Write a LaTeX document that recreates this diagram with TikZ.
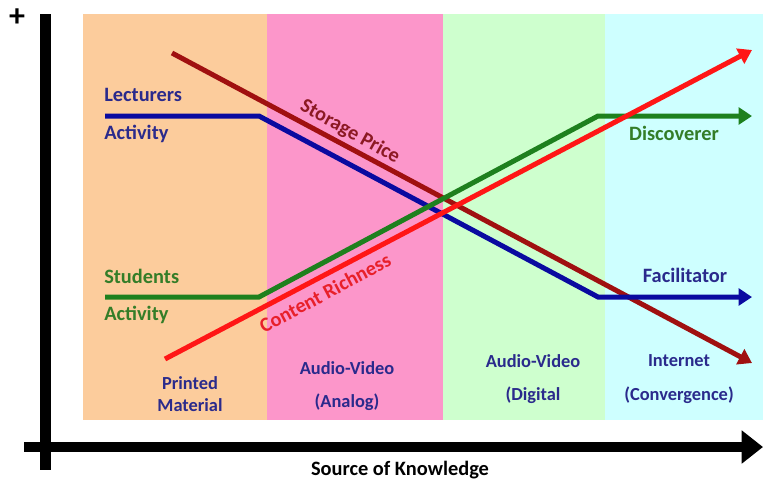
\documentclass[tikz,border=0pt]{standalone}
\usepackage{fontspec}
\setmainfont{Carlito}
\usetikzlibrary{arrows.meta}
\definecolor{peach}{RGB}{252,204,156}
\definecolor{pinkb}{RGB}{252,150,202}
\definecolor{greenb}{RGB}{206,255,206}
\definecolor{cyanb}{RGB}{206,255,255}
\definecolor{lnred}{RGB}{255,22,22}
\definecolor{lndred}{RGB}{160,16,16}
\definecolor{lnblue}{RGB}{10,10,160}
\definecolor{lngreen}{RGB}{30,128,30}
\definecolor{txblue}{RGB}{42,42,140}
\definecolor{txgreen}{RGB}{52,125,40}
\definecolor{txdred}{RGB}{140,25,35}
\definecolor{txred}{RGB}{232,32,42}
\begin{document}
\begin{tikzpicture}[x=0.75pt,y=-0.75pt,
  trend/.style={line width=3.75pt},
  tip/.style={-{Triangle[length=10pt,width=12.5pt]}},
  lbl/.style={font=\fontsize{15.3}{18}\selectfont\bfseries, inner sep=0pt},
  era/.style={font=\fontsize{13.8}{16}\selectfont\bfseries, inner sep=0pt, text=txblue}]
\useasboundingbox (0,0) rectangle (763,479);
% bands
\fill[peach] (83,14) rectangle (267,420);
\fill[pinkb] (267,14) rectangle (443,420);
\fill[greenb] (443,14) rectangle (605,420);
\fill[cyanb] (605,14) rectangle (763,420);
% axes
\fill[black] (40,14) rectangle (51,470);
\draw[line width=8pt,-{Triangle[length=16pt,width=24pt]}] (24,447) -- (763,447);
\node[font=\fontsize{24}{24}\selectfont\bfseries, inner sep=0pt] (plus) at (17,18) {+};
\node[font=\fontsize{15.3}{18}\selectfont\bfseries, inner sep=0pt] (xlab) at (400,470) {Source of Knowledge};
% coordinates
\coordinate (sp0) at (172,53);
\coordinate (sp1) at (752,363);
\coordinate (la0) at (105,116);
\coordinate (la1) at (259,116);
\coordinate (la2) at (598,297);
\coordinate (la3) at (752,297);
\coordinate (sa0) at (105,297);
\coordinate (sa1) at (259,297);
\coordinate (sa2) at (598,116);
\coordinate (sa3) at (752,116);
\coordinate (cr0) at (165,359);
\coordinate (cr1) at (752,50);
% lines
\draw[trend,lndred,tip] (sp0) -- (sp1);
\draw[trend,lnblue,tip] (la0) -- (la1) -- (la2) -- (la3);
\draw[trend,lngreen,tip] (sa0) -- (sa1) -- (sa2) -- (sa3);
\draw[trend,lnred,tip] (cr0) -- (cr1);
% labels
\node[lbl,text=txblue,anchor=west] (lec) at (104,95) {Lecturers};
\node[lbl,text=txblue,anchor=west] (lecact) at (104,134) {Activity};
\node[lbl,text=txgreen,anchor=west] (stu) at (104,276) {Students};
\node[lbl,text=txgreen,anchor=west] (stuact) at (104,315) {Activity};
\node[lbl,text=txgreen] (disc) at (674,133) {Discoverer};
\node[lbl,text=txblue] (fac) at (685,275) {Facilitator};
\node[lbl,text=txdred,rotate=-29] (spl) at (350,132) {Storage Price};
\node[lbl,text=txred,rotate=28] (crl) at (325,293) {Content Richness};
\node[era] (e1a) at (190,383) {Printed};
\node[era] (e1b) at (190,405) {Material};
\node[era] (e2a) at (347,368) {Audio-Video};
\node[era] (e2b) at (347,402) {(Analog)};
\node[era] (e3a) at (533,361) {Audio-Video};
\node[era] (e3b) at (533,395) {(Digital};
\node[era] (e4a) at (679,361) {Internet};
\node[era] (e4b) at (679,395) {(Convergence)};
\end{tikzpicture}
\end{document}
